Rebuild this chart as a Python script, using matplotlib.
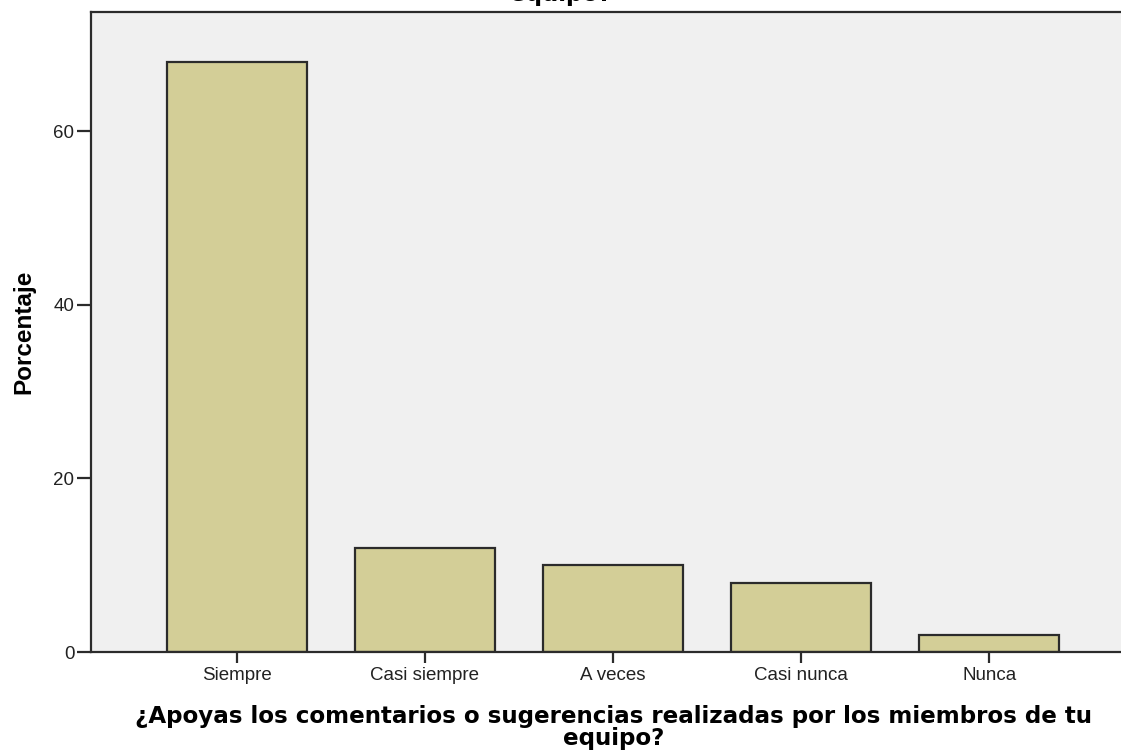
import matplotlib.pyplot as plt

categorias = ["Siempre", "Casi siempre", "A veces", "Casi nunca", "Nunca"]
porcentaje = [68, 12, 10, 8, 2]
yticks = [0, 20, 40, 60]

plt.rcParams['font.family'] = ['Liberation Sans', 'DejaVu Sans']

fig = plt.figure(figsize=(11.21, 7.53), dpi=100)
ax = fig.add_axes([0.0812, 0.1341, 0.9188, 0.8499])
ax.set_facecolor('#F0F0F0')

x = list(range(len(categorias)))
ax.bar(x, porcentaje, width=0.745, color='#D3CE97', edgecolor='#2b2b2b', linewidth=1.6, zorder=2)

ax.set_xlim(-0.775, 4.70)
ax.set_ylim(0, 73.7)
ax.set_xticks(x)
ax.set_xticklabels(categorias, fontsize=13.5, color='#222222')
ax.set_yticks(yticks)
ax.set_yticklabels([str(v) for v in yticks], fontsize=13.5, color='#222222')
ax.tick_params(axis='x', length=8, width=1.6, color='#2b2b2b', pad=3)
ax.tick_params(axis='y', length=10, width=1.6, color='#2b2b2b', pad=2)

for s in ['left', 'bottom', 'top']:
    ax.spines[s].set_linewidth(1.6)
    ax.spines[s].set_color('#2b2b2b')
ax.spines['right'].set_visible(False)

ax.set_ylabel('Porcentaje', fontsize=17.5, fontweight='bold')
ax.yaxis.set_label_coords(-0.054, 0.50)

ax.set_xlabel('¿Apoyas los comentarios o sugerencias realizadas por los miembros de tu\nequipo?',
              fontsize=16.6, fontweight='bold', family='DejaVu Sans', linespacing=0.95)
ax.xaxis.set_label_coords(0.507, -0.083)
ax.xaxis.label.set_va('top')

# titulo cortado en la parte superior
fig.text(561 / 1121, 1 - 0.5 / 753, 'equipo?', fontsize=16.6, fontweight='bold',
         family='DejaVu Sans', ha='center', va='baseline')

fig.savefig('out.png', dpi=100)
